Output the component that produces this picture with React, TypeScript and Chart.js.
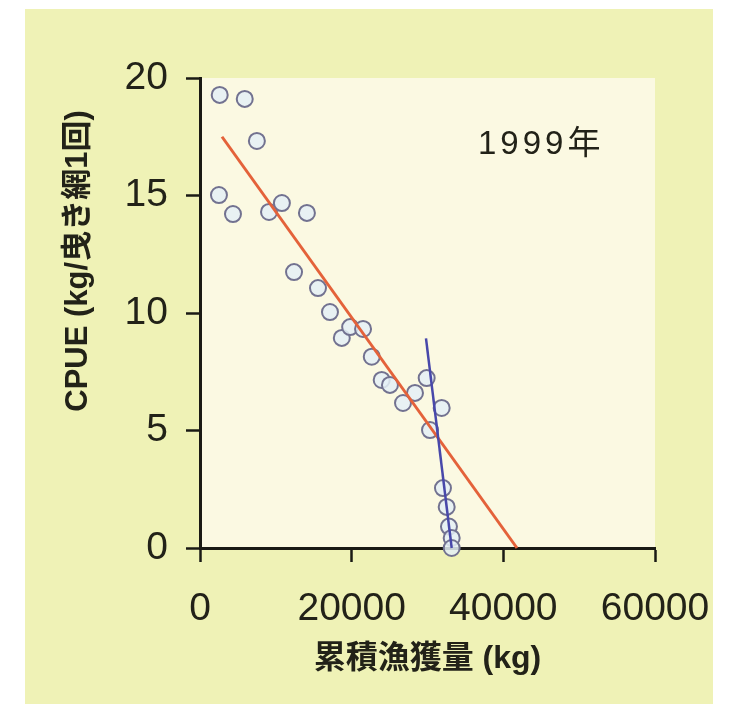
import React, { useEffect, useRef } from "react";
import { Chart, registerables } from "chart.js";

Chart.register(...registerables);

// ---- data ----
const xTickValues = [0, 20000, 40000, 60000];
const yTickValues = [0, 5, 10, 15, 20];

const cumulativeCatch = [
  2600, 5900, 7500, 2500, 4350, 9100, 10800, 14100, 12400, 15560, 17140,
  18700, 19800, 21500, 22650, 23960, 25050, 26770, 28350, 29890, 31870,
  30330, 32040, 32530, 32830, 33190, 33190,
];
const cpue = [
  19.28, 19.11, 17.32, 15.02, 14.21, 14.3, 14.68, 14.26, 11.74, 11.06, 10.04,
  8.94, 9.4, 9.32, 8.14, 7.15, 6.94, 6.17, 6.6, 7.23, 5.96,
  5.02, 2.55, 1.75, 0.91, 0.43, 0,
];

const redLineX = [2900, 41800];
const redLineY = [17.5, 0];
const blueLineX = [29800, 33190];
const blueLineY = [8.92, 0];

const xTitle = "累積漁獲量 (kg)";
const yTitle = "CPUE (kg/曳き網1回)";
const yearLabel = "1999年";

const FONT = '"Liberation Sans", "Noto Sans CJK JP", Arial, sans-serif';
const TEXT = "#222218";

export default function App() {
  const canvasRef = useRef<HTMLCanvasElement>(null);

  useEffect(() => {
    const canvas = canvasRef.current;
    if (!canvas) return;

    const decor = {
      id: "decor",
      beforeDraw(chart: any) {
        const { ctx, chartArea } = chart;
        ctx.save();
        ctx.fillStyle = "#ffffff";
        ctx.fillRect(0, 0, 740, 704);
        ctx.fillStyle = "#eff2b6";
        ctx.fillRect(25, 9, 688, 695);
        ctx.fillStyle = "#fbf9e2";
        ctx.fillRect(
          chartArea.left,
          chartArea.top,
          chartArea.right - chartArea.left,
          chartArea.bottom - chartArea.top
        );
        ctx.restore();
      },
      afterDraw(chart: any) {
        const { ctx, chartArea } = chart;
        // y axis title
        ctx.save();
        ctx.translate(78, 261);
        ctx.rotate(-Math.PI / 2);
        ctx.font = `bold 31px ${FONT}`;
        ctx.fillStyle = TEXT;
        ctx.textAlign = "center";
        ctx.textBaseline = "middle";
        ctx.fillText(yTitle, 0, 0);
        ctx.restore();
        // year label
        ctx.save();
        (ctx as any).letterSpacing = "4px";
        ctx.font = `33px ${FONT}`;
        ctx.fillStyle = TEXT;
        ctx.textAlign = "left";
        ctx.textBaseline = "alphabetic";
        ctx.fillText(yearLabel, chartArea.left + 278, chartArea.top + 76);
        (ctx as any).letterSpacing = "0px";
        ctx.restore();
      },
    };

    const chart = new Chart(canvas, {
      type: "scatter",
      data: {
        datasets: [
          {
            data: blueLineX.map((x, i) => ({ x, y: blueLineY[i] })),
            showLine: true,
            borderColor: "#4848aa",
            borderWidth: 2.5,
            pointRadius: 0,
            clip: false,
            order: 0,
          } as any,
          {
            data: redLineX.map((x, i) => ({ x, y: redLineY[i] })),
            showLine: true,
            borderColor: "#e4623a",
            borderWidth: 3,
            pointRadius: 0,
            clip: false,
            order: 0,
          } as any,
          {
            data: cumulativeCatch.map((x, i) => ({ x, y: cpue[i] })),
            pointRadius: 8,
            pointBorderWidth: 2,
            pointBorderColor: "#727290",
            pointBackgroundColor: "rgba(228,240,246,0.85)",
            showLine: false,
            clip: false,
            order: 1,
          } as any,
        ],
      },
      options: {
        animation: false,
        responsive: false,
        devicePixelRatio: 1,
        layout: { padding: { left: 0, right: 85, top: 78, bottom: 0 } },
        plugins: {
          legend: { display: false },
          tooltip: { enabled: false },
        },
        scales: {
          x: {
            type: "linear",
            min: 0,
            max: 60000,
            afterBuildTicks: (s: any) => {
              s.ticks = xTickValues.map((v) => ({ value: v }));
            },
            afterFit: (s: any) => {
              s.height = 156;
            },
            border: { display: true, color: "#1a1a14", width: 3 },
            grid: {
              drawOnChartArea: false,
              drawTicks: true,
              tickLength: 14,
              tickWidth: 2.5,
              tickColor: "#1a1a14",
            },
            ticks: {
              autoSkip: false,
              maxRotation: 0,
              padding: 24,
              color: TEXT,
              font: { family: FONT, size: 39 },
              callback: (v: any) => String(v),
            },
            title: {
              display: true,
              text: xTitle,
              color: TEXT,
              font: { family: FONT, size: 32, weight: "bold" },
              padding: { top: 0, bottom: 26 },
            },
          },
          y: {
            type: "linear",
            min: 0,
            max: 20,
            afterBuildTicks: (s: any) => {
              s.ticks = yTickValues.map((v) => ({ value: v }));
            },
            afterFit: (s: any) => {
              s.width = 200;
            },
            border: { display: true, color: "#1a1a14", width: 3 },
            grid: {
              drawOnChartArea: false,
              drawTicks: true,
              tickLength: 14,
              tickWidth: 2.5,
              tickColor: "#1a1a14",
            },
            ticks: {
              autoSkip: false,
              padding: 18,
              color: TEXT,
              font: { family: FONT, size: 39 },
              callback: (v: any) => String(v),
            },
          },
        },
      } as any,
      plugins: [decor],
    });

    return () => chart.destroy();
  }, []);

  return (
    <div style={{ position: "absolute", left: 0, top: 0, width: 740, height: 704 }}>
      <canvas ref={canvasRef} width={740} height={704} style={{ display: "block" }} />
    </div>
  );
}
